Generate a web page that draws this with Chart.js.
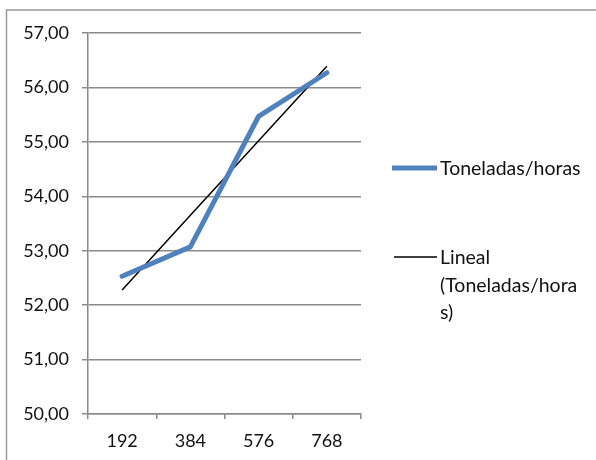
<!DOCTYPE html>
<html>
<head>
<meta charset="utf-8">
<script src="https://cdn.jsdelivr.net/npm/chart.js@4/dist/chart.umd.min.js"></script>
<style>
html,body{margin:0;padding:0;background:#fff;}
#wrap{position:relative;width:596px;height:460px;}
</style>
</head>
<body>
<div id="wrap"><canvas id="c" width="596" height="460"></canvas></div>
<script>
const categories = ['192', '384', '576', '768'];
const toneladas = [52.53, 53.07, 55.47, 56.27];
const lineal = [52.28, 53.65, 55.02, 56.39];
const yMin = 50, yMax = 57, yStep = 1;
const seriesNames = ['Toneladas/horas', 'Lineal (Toneladas/horas)'];
const legendLines = [['Toneladas/horas'], ['Lineal', '(Toneladas/hora', 's)']];

const FONT = 'Lato, "Open Sans", sans-serif';
const GRID = '#8a8a8a';
const TEXT = '#111111';

const frame = {
  id: 'frame',
  beforeDraw(chart) {
    const ctx = chart.ctx;
    ctx.save();
    ctx.strokeStyle = '#9a9a9a';
    ctx.lineWidth = 1.5;
    ctx.beginPath();
    ctx.moveTo(6.5, 460);
    ctx.lineTo(6.5, 10);
    ctx.lineTo(596, 10);
    ctx.stroke();
    ctx.restore();
  }
};

const sideLegend = {
  id: 'sideLegend',
  afterDraw(chart) {
    const ctx = chart.ctx;
    const tops = [168, 257];
    ctx.save();
    ctx.font = '19.5px ' + FONT;
    ctx.textBaseline = 'middle';
    ctx.fillStyle = TEXT;
    chart.data.datasets.forEach((ds, i) => {
      const y = tops[i];
      ctx.strokeStyle = ds.borderColor;
      ctx.lineWidth = ds.borderWidth;
      ctx.lineCap = 'butt';
      ctx.beginPath();
      ctx.moveTo(i === 0 ? 392 : 394, y);
      ctx.lineTo(437, y);
      ctx.stroke();
      legendLines[i].forEach((t, k) => {
        ctx.fillText(t, 440, y + 1 + k * 27.5);
      });
    });
    ctx.restore();
  }
};

new Chart(document.getElementById('c'), {
  type: 'line',
  data: {
    labels: categories,
    datasets: [
      {
        label: seriesNames[0],
        data: toneladas,
        borderColor: '#4f81bd',
        borderWidth: 5,
        pointRadius: 0,
        borderCapStyle: 'round',
        borderJoinStyle: 'round',
        tension: 0
      },
      {
        label: seriesNames[1],
        data: lineal,
        borderColor: '#000000',
        borderWidth: 1.5,
        pointRadius: 0,
        tension: 0
      }
    ]
  },
  options: {
    responsive: false,
    animation: false,
    devicePixelRatio: 1,
    layout: { padding: { top: 33, right: 235, bottom: 0, left: 0 } },
    plugins: {
      legend: { display: false },
      tooltip: { enabled: false }
    },
    scales: {
      x: {
        offset: true,
        grid: {
          offset: true,
          drawOnChartArea: false,
          drawTicks: true,
          tickLength: 5,
          color: GRID,
          lineWidth: 1.5
        },
        border: { color: GRID, width: 1.5 },
        ticks: {
          color: TEXT,
          font: { family: FONT, size: 18 },
          padding: 11,
          maxRotation: 0
        },
        afterFit(s) { s.height = 46; }
      },
      y: {
        min: yMin,
        max: yMax,
        grid: {
          color: GRID,
          lineWidth: 1.5,
          drawTicks: true,
          tickLength: 6
        },
        border: { color: GRID, width: 1.5 },
        ticks: {
          stepSize: yStep,
          color: TEXT,
          font: { family: FONT, size: 18 },
          padding: 13,
          callback: v => Number(v).toFixed(2).replace('.', ',')
        },
        afterFit(s) { s.width = 88; }
      }
    }
  },
  plugins: [frame, sideLegend]
});
</script>
</body>
</html>
